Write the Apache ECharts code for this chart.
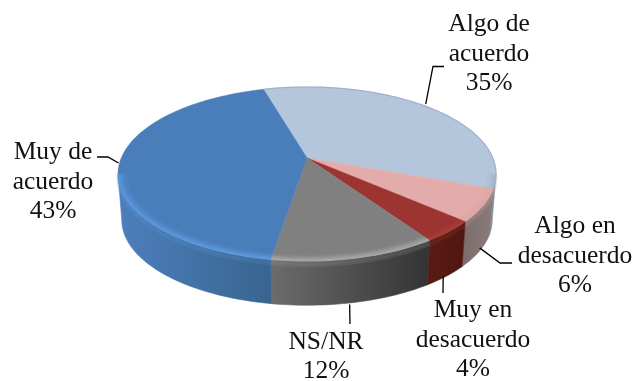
<!DOCTYPE html>
<html>
<head>
<meta charset="utf-8">
<script src="https://cdn.jsdelivr.net/npm/echarts@6/dist/echarts.min.js"></script>
<style>html,body{margin:0;padding:0;background:#fff}#c{width:634px;height:381px}</style>
</head>
<body>
<div id="c"></div>
<script>
// ---- data ----
const categories = ['Algo de\nacuerdo', 'Algo en\ndesacuerdo', 'Muy en\ndesacuerdo', 'NS/NR', 'Muy de\nacuerdo'];
const values = [35, 6, 4, 12, 43];

// ---- styles / layout ----
const faceColors = ['#b3c6dc', '#e3abaa', '#9c3431', '#808080', '#4a7ebb'];
const rimColors = ['#9fb2c8', '#d8a8a6', '#a83e3a', '#a8a8a8', '#5f9ae0'];
const sideStops = [
  ['#8a98a8', '#77828f'],
  ['#7a6c6a', '#8a7c7a'],
  ['#5a1a14', '#4f1712'],
  ['#6c6c6c', '#333333'],
  ['#4d7fbd', '#38648f']
];
const labelPos = [[489, 54], [575, 256], [473, 340], [326, 357], [53, 182]];
const leaderNudge = [[-2, -3], [0, -3], [-3, 0], [-5, 2], [-1, 0]];
const leaderRest = [
  [[433, 66.5], [444, 66.5]],
  [[500, 263], [512, 263]],
  [[443, 293]],
  [[350, 324]],
  [[108, 157], [97, 157]]
];
const leaderOnSide = [false, true, true, true, false];
const geo = { cx: 307, cy: 174, rx: 189, ry: 87, depth: 46, persp: -0.184, bottomScale: 0.98, startDeg: -16 };

// ---- projection of the tilted disc ----
const total = values.reduce((s, v) => s + v, 0);
const spans = [];
values.reduce((acc, v) => {
  const a = acc, b = acc + v / total * 360;
  spans.push([a, b]);
  return b;
}, geo.startDeg);

function proj(deg, r, lower) {
  const t = deg * Math.PI / 180, u = r * Math.sin(t), v = -r * Math.cos(t), a = geo.persp;
  const d = 1 + a * v;
  const xe = u * Math.sqrt(1 - a * a) / d, ye = (v + a) / d;
  const s = lower ? geo.bottomScale : 1;
  return [geo.cx + geo.rx * xe * s, geo.cy + geo.ry * ye * s + (lower ? geo.depth : 0)];
}
function arc(a, b, r, lower) {
  const n = Math.max(2, Math.ceil(Math.abs(b - a) / 1.5)), pts = [];
  for (let i = 0; i <= n; i++) pts.push(proj(a + (b - a) * i / n, r, lower));
  return pts;
}
const frontA = 100.6, frontB = 259.4;
function frontRange(a, b) {
  const out = [];
  for (const k of [0, 360, -360]) {
    const s = Math.max(a + k, frontA), e = Math.min(b + k, frontB);
    if (e > s) out.push([s, e]);
  }
  return out;
}
const G = echarts.graphic;

function renderSide(params, api) {
  const i = api.value(0), kids = [];
  frontRange(spans[i][0], spans[i][1]).forEach(([s, e]) => {
    const fill = new G.LinearGradient(1, 0, 0, 0, [
      { offset: 0, color: sideStops[i][1] }, { offset: 1, color: sideStops[i][0] }
    ]);
    kids.push({
      type: 'polygon',
      shape: { points: arc(s, e, 1, false).concat(arc(e, s, 1, true)) },
      style: { fill, stroke: fill, lineWidth: 0.6 }
    });
  });
  return { type: 'group', children: kids };
}
function renderFace(params, api) {
  const i = api.value(0);
  return {
    type: 'polygon',
    shape: { points: [proj(0, 0, false)].concat(arc(spans[i][0], spans[i][1], 1, false)) },
    style: { fill: faceColors[i], stroke: faceColors[i], lineWidth: 0.5 }
  };
}
function renderRim(params, api) {
  const i = api.value(0), kids = [];
  const a = spans[i][0], b = spans[i][1];
  // soft bevel on the front rim, fading inward and onto the side wall
  frontRange(a, b).forEach(([s, e]) => {
    [[1, 2, 0.18], [1, 4.5, 0.16]].forEach(([r, dy, o]) => {
      kids.push({
        type: 'polyline',
        shape: { points: arc(s, e, r, false).map(p => [p[0], p[1] + dy]) },
        style: { fill: null, stroke: rimColors[i], lineWidth: 3, opacity: o }
      });
    });
    [[0.997, 0.9], [0.987, 0.7], [0.977, 0.45], [0.967, 0.25], [0.957, 0.12]].forEach(([r, o]) => {
      kids.push({
        type: 'polyline',
        shape: { points: arc(s, e, r, false) },
        style: { fill: null, stroke: rimColors[i], lineWidth: 1.8, opacity: o }
      });
    });
  });
  // thin dark edge on the back rim
  const backS = Math.max(a, -100), backE = Math.min(b, frontA);
  if (backE > backS) {
    kids.push({
      type: 'polyline',
      shape: { points: arc(backS, backE, 1, false) },
      style: { fill: null, stroke: rimColors[i], lineWidth: 1.2 }
    });
  }
  return { type: 'group', children: kids };
}
function renderLabel(params, api) {
  const i = api.value(0);
  const mid = (spans[i][0] + spans[i][1]) / 2;
  const start = proj(mid, 1, leaderOnSide[i]);
  const p0 = [start[0] + leaderNudge[i][0], start[1] + leaderNudge[i][1]];
  return {
    type: 'group',
    children: [
      {
        type: 'polyline',
        shape: { points: [p0].concat(leaderRest[i]) },
        style: { fill: null, stroke: '#000', lineWidth: 1.3 }
      },
      {
        type: 'text',
        style: {
          x: labelPos[i][0], y: labelPos[i][1],
          text: categories[i] + '\n' + values[i] + '%',
          align: 'center', verticalAlign: 'middle',
          fontFamily: 'Liberation Serif', fontSize: 25.5, lineHeight: 29.5,
          fill: '#111'
        }
      }
    ]
  };
}

const idx = values.map((_, i) => [i]);
const layer = (renderItem, z) => ({
  type: 'custom', coordinateSystem: 'none', renderItem, data: idx, z,
  silent: true, animation: false, clip: false
});
const chart = echarts.init(document.getElementById('c'), null, { renderer: 'canvas' });
chart.setOption({
  backgroundColor: '#fff',
  animation: false,
  series: [layer(renderSide, 1), layer(renderFace, 2), layer(renderRim, 3), layer(renderLabel, 4)]
});
</script>
</body>
</html>
